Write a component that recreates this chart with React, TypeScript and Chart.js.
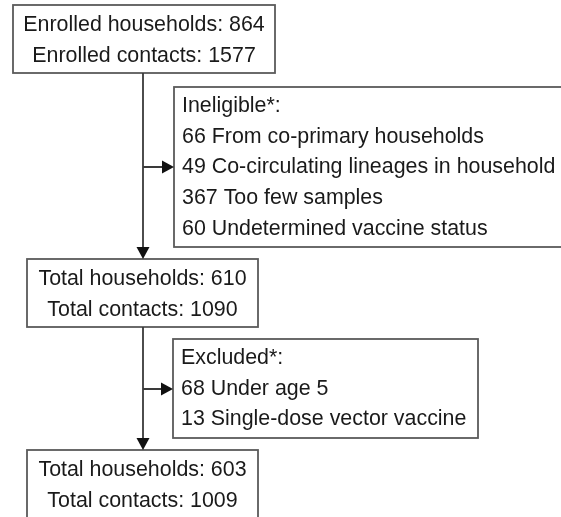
import React, { useEffect, useRef } from "react";
import { Chart, registerables } from "chart.js";

Chart.register(...registerables);

// ---- data ----
const mainLabels = ["Enrolled", "Total", "Total"];
const households = [864, 610, 603];
const contacts = [1577, 1090, 1009];
const ineligibleTitle = "Ineligible*:";
const ineligibleCounts = [66, 49, 367, 60];
const ineligibleReasons = [
  "From co-primary households",
  "Co-circulating lineages in household",
  "Too few samples",
  "Undetermined vaccine status",
];
const excludedTitle = "Excluded*:";
const excludedCounts = [68, 13];
const excludedReasons = ["Under age 5", "Single-dose vector vaccine"];

// ---- layout (chart units) ----
const W = 561;
const H = 517;
const mainBoxes = [
  { x0: 13, x1: 275, y0: 5, y1: 73 },
  { x0: 27, x1: 258, y0: 259, y1: 327 },
  { x0: 27, x1: 258, y0: 450, y1: 530 },
];
const sideBoxes = [
  { x0: 174, x1: 580, y0: 87, y1: 247, arrowY: 167 },
  { x0: 173, x1: 478, y0: 339, y1: 438, arrowY: 389 },
];
const spineX = 143;
const FONT = '21.4px "Liberation Sans", Arial, sans-serif';
const LINE_H = 31;

const flowPlugin = {
  id: "flow",
  afterDraw(chart: any) {
    const ctx = chart.ctx as CanvasRenderingContext2D;
    const xs = chart.scales.x;
    const ys = chart.scales.y;
    const px = (v: number) => xs.getPixelForValue(v);
    const py = (v: number) => ys.getPixelForValue(v);
    ctx.save();
    // boxes
    ctx.strokeStyle = "#5a5a5a";
    ctx.lineWidth = 1.8;
    ctx.fillStyle = "#ffffff";
    const allBoxes = [...mainBoxes, ...sideBoxes];
    allBoxes.forEach((b) => {
      ctx.fillRect(px(b.x0), py(b.y0), px(b.x1) - px(b.x0), py(b.y1) - py(b.y0));
      ctx.strokeRect(px(b.x0), py(b.y0), px(b.x1) - px(b.x0), py(b.y1) - py(b.y0));
    });

    // connectors
    ctx.strokeStyle = "#3a3a3a";
    ctx.fillStyle = "#111111";
    ctx.lineWidth = 1.8;
    const arrowDown = (x: number, y: number) => {
      ctx.beginPath();
      ctx.moveTo(x, y);
      ctx.lineTo(x - 6.5, y - 12);
      ctx.lineTo(x + 6.5, y - 12);
      ctx.closePath();
      ctx.fill();
    };
    const arrowRight = (x: number, y: number) => {
      ctx.beginPath();
      ctx.moveTo(x, y);
      ctx.lineTo(x - 12, y - 6.5);
      ctx.lineTo(x - 12, y + 6.5);
      ctx.closePath();
      ctx.fill();
    };
    for (let i = 0; i < mainBoxes.length - 1; i++) {
      const a = mainBoxes[i];
      const b = mainBoxes[i + 1];
      const s = sideBoxes[i];
      ctx.beginPath();
      ctx.moveTo(px(spineX), py(a.y1));
      ctx.lineTo(px(spineX), py(b.y0) - 10);
      ctx.moveTo(px(spineX), py(s.arrowY));
      ctx.lineTo(px(s.x0) - 10, py(s.arrowY));
      ctx.stroke();
      arrowDown(px(spineX), py(b.y0));
      arrowRight(px(s.x0), py(s.arrowY));
    }

    // text
    ctx.font = FONT;
    ctx.fillStyle = "#1a1a1a";
    ctx.textBaseline = "middle";
    ctx.textAlign = "center";
    mainBoxes.forEach((b, i) => {
      const cx = px((b.x0 + b.x1) / 2);
      const top = py(b.y0);
      ctx.fillText(`${mainLabels[i]} households: ${households[i]}`, cx, top + 20);
      ctx.fillText(`${mainLabels[i]} contacts: ${contacts[i]}`, cx, top + 20 + LINE_H);
    });
    ctx.textAlign = "left";
    const sideTexts = [
      [ineligibleTitle, ...ineligibleCounts.map((c, i) => `${c} ${ineligibleReasons[i]}`)],
      [excludedTitle, ...excludedCounts.map((c, i) => `${c} ${excludedReasons[i]}`)],
    ];
    sideBoxes.forEach((b, i) => {
      const left = px(b.x0) + 8;
      const top = py(b.y0);
      sideTexts[i].forEach((t, j) => {
        ctx.fillText(t, left, top + 19 + j * 30.7);
      });
    });
    ctx.restore();
  },
};

export default function App() {
  const ref = useRef<HTMLCanvasElement>(null);
  useEffect(() => {
    if (!ref.current) return;
    const chart = new Chart(ref.current, {
      type: "scatter",
      data: {
        datasets: [
          {
            data: mainBoxes.map((b, i) => ({ x: (b.x0 + b.x1) / 2, y: (b.y0 + b.y1) / 2, n: households[i] })),
            pointRadius: 0,
          },
        ],
      },
      options: {
        responsive: false,
        animation: false,
        events: [],
        layout: { padding: 0 },
        plugins: { legend: { display: false }, tooltip: { enabled: false } },
        scales: {
          x: { type: "linear", min: 0, max: W, display: false },
          y: { type: "linear", min: 0, max: H, reverse: true, display: false },
        },
      },
      plugins: [flowPlugin],
    });
    return () => chart.destroy();
  }, []);
  return (
    <div style={{ position: "fixed", left: 0, top: 0, width: W, height: H, background: "#fff" }}>
      <canvas ref={ref} width={W} height={H} style={{ width: W, height: H, display: "block" }} />
    </div>
  );
}
